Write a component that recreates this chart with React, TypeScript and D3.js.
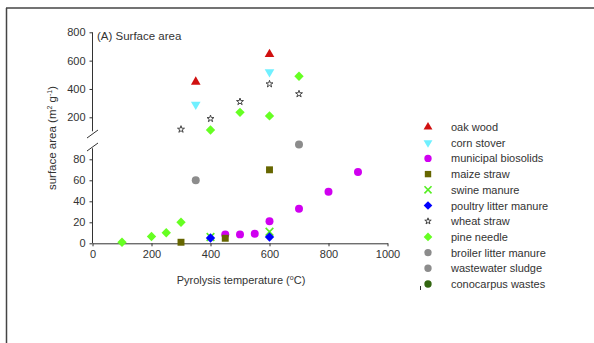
import React, { useEffect, useRef } from 'react';
import * as d3 from 'd3';

// series: name, temperatures (°C), surface area (m2/g)
const seriesNames = [
    'oak wood',
    'corn stover',
    'municipal biosolids',
    'maize straw',
    'swine manure',
    'poultry litter manure',
    'wheat straw',
    'pine needle',
    'broiler litter manure',
    'wastewater sludge',
    'conocarpus wastes',
];
const oakWoodT = [350, 600];
const oakWoodV = [450, 645];
const cornStoverT = [350, 600];
const cornStoverV = [290, 520];
const biosolidsT = [450, 500, 550, 600, 700, 800, 900];
const biosolidsV = [8.5, 8.5, 9, 21, 33, 49, 68];
const maizeStrawT = [300, 450, 600];
const maizeStrawV = [1, 4.8, 70];
const swineManureT = [400, 600];
const swineManureV = [6, 11];
const poultryT = [400, 600];
const poultryV = [5, 6];
const wheatStrawT = [300, 400, 500, 600, 700];
const wheatStrawV = [115, 190, 310, 435, 365];
const pineNeedleT = [100, 200, 250, 300, 400, 500, 600, 700];
const pineNeedleV = [1, 6.5, 10, 20, 110, 235, 210, 490];
const broilerT = [350];
const broilerV = [60];
const sludgeT = [700];
const sludgeV = [94];
const conocarpusT: number[] = [];
const conocarpusV: number[] = [];

const xTicks = [0, 200, 400, 600, 800, 1000];
const lowTicks = [0, 20, 40, 60, 80];
const highTicks = [200, 400, 600, 800];

const series = [
    { t: oakWoodT, v: oakWoodV, shape: 'triUp', color: '#d01010' },
    { t: cornStoverT, v: cornStoverV, shape: 'triDown', color: '#70f0ff' },
    { t: biosolidsT, v: biosolidsV, shape: 'circle', color: '#d000f0' },
    { t: maizeStrawT, v: maizeStrawV, shape: 'square', color: '#666600' },
    { t: swineManureT, v: swineManureV, shape: 'x', color: '#55ee22' },
    { t: poultryT, v: poultryV, shape: 'diamond', color: '#0000ff' },
    { t: wheatStrawT, v: wheatStrawV, shape: 'star', color: '#444444' },
    { t: pineNeedleT, v: pineNeedleV, shape: 'diamond', color: '#66ff22' },
    { t: broilerT, v: broilerV, shape: 'circle', color: '#8c8c8c' },
    { t: sludgeT, v: sludgeV, shape: 'circle', color: '#8c8c8c' },
    { t: conocarpusT, v: conocarpusV, shape: 'circle', color: '#336611' },
];

const FONT = 'Liberation Sans, Arial, sans-serif';
const TEXT = '#333333';

function drawMarker(g, shape, color, x, y, scale = 1) {
    const sym = d3.symbol();
    let path;
    let rot = 0;
    let fill = color;
    let stroke = 'none';
    if (shape === 'triUp') path = sym.type(d3.symbolTriangle).size(40 * scale)();
    else if (shape === 'triDown') {
        path = sym.type(d3.symbolTriangle).size(40 * scale)();
        rot = 180;
    } else if (shape === 'circle') path = sym.type(d3.symbolCircle).size(50 * scale)();
    else if (shape === 'square') path = sym.type(d3.symbolSquare).size(48 * scale)();
    else if (shape === 'diamond') {
        path = sym.type(d3.symbolSquare).size(44 * scale)();
        rot = 45;
    } else if (shape === 'x') {
        path = sym.type(d3.symbolTimes || d3.symbolCross).size(40 * scale)();
        fill = 'none';
        stroke = color;
    } else if (shape === 'star') {
        path = sym.type(d3.symbolStar).size(15 * scale)();
        fill = '#ffffff';
        stroke = color;
    }
    g.append('path')
        .attr('d', path)
        .attr('transform', `translate(${x},${y}) rotate(${rot})`)
        .attr('fill', fill)
        .attr('stroke', stroke)
        .attr('stroke-width', shape === 'x' ? 1.6 : 1);
}

export default function App() {
    const ref = useRef(null);

    useEffect(() => {
        const svg = d3.select(ref.current);
        svg.selectAll('*').remove();

        // frame lines (left and top only visible)
        svg.append('line').attr('x1', 6.5).attr('x2', 6.5).attr('y1', 8).attr('y2', 343)
            .attr('stroke', '#444').attr('stroke-width', 1.5);
        svg.append('line').attr('x1', 6).attr('x2', 594).attr('y1', 8).attr('y2', 8)
            .attr('stroke', '#444').attr('stroke-width', 1.5);

        const x = d3.scaleLinear().domain([0, 1000]).range([92.5, 387.5]);
        const yLow = d3.scaleLinear().domain([0, 80]).range([243.3, 159.3]);
        const yHigh = d3.scaleLinear().domain([200, 800]).range([117.3, 32.3]);
        const yOf = (v) => (v > 100 ? yHigh(v) : yLow(v));

        const axisStyle = (g) => {
            g.selectAll('text').attr('font-family', FONT).attr('font-size', 11).attr('fill', TEXT);
            g.selectAll('line').attr('stroke', TEXT);
            g.selectAll('path').attr('stroke', TEXT);
        };

        // x axis
        svg.append('g')
            .attr('transform', 'translate(0,243.3)')
            .call(
                d3.axisBottom(x).tickValues(xTicks).tickFormat(d3.format('d'))
                    .tickSize(3).tickSizeOuter(0).tickPadding(4)
            )
            .call(axisStyle);

        // lower y axis
        const gl = svg.append('g')
            .attr('transform', 'translate(92.5,0)')
            .call(d3.axisLeft(yLow).tickValues(lowTicks).tickSize(3).tickSizeOuter(0).tickPadding(4))
            .call(axisStyle);
        gl.select('.domain').attr('d', `M0,${yLow(0)}V${yLow(0) - 95}`);

        // upper y axis
        const gh = svg.append('g')
            .attr('transform', 'translate(92.5,0)')
            .call(d3.axisLeft(yHigh).tickValues(highTicks).tickSize(3).tickSizeOuter(0).tickPadding(4))
            .call(axisStyle);
        gh.select('.domain').attr('d', `M0,${yHigh(800)}V${yHigh(800) + 99}`);

        // break marks
        [134, 147].forEach((cy) => {
            svg.append('line')
                .attr('x1', 87).attr('y1', cy + 4).attr('x2', 98).attr('y2', cy - 4)
                .attr('stroke', TEXT).attr('stroke-width', 1);
        });

        // axis labels
        svg.append('text')
            .attr('x', 97).attr('y', 40)
            .attr('font-family', FONT).attr('font-size', 11.5).attr('fill', TEXT)
            .text('(A) Surface area');

        const xl = svg.append('text')
            .attr('x', 241).attr('y', 284)
            .attr('text-anchor', 'middle')
            .attr('font-family', FONT).attr('font-size', 11).attr('fill', TEXT);
        xl.append('tspan').text('Pyrolysis temperature (');
        xl.append('tspan').attr('dy', -4).attr('font-size', 7).text('o');
        xl.append('tspan').attr('dy', 4).text('C)');

        const yl = svg.append('text')
            .attr('transform', 'translate(56,138) rotate(-90)')
            .attr('text-anchor', 'middle')
            .attr('font-family', FONT).attr('font-size', 11.5).attr('fill', TEXT);
        yl.append('tspan').text('surface area (m');
        yl.append('tspan').attr('dy', -4).attr('font-size', 7).text('2');
        yl.append('tspan').attr('dy', 4).text(' g');
        yl.append('tspan').attr('dy', -4).attr('font-size', 7).text('-1');
        yl.append('tspan').attr('dy', 4).text(')');

        // points
        const pts = svg.append('g');
        series.forEach((s) => {
            s.t.forEach((t, i) => drawMarker(pts, s.shape, s.color, x(t), yOf(s.v[i])));
        });

        // legend
        const ly = d3.scaleLinear().domain([0, 10]).range([127, 284]);
        const lg = svg.append('g');
        seriesNames.forEach((name, i) => {
            drawMarker(lg, series[i].shape, series[i].color, 428, ly(i), 0.85);
            lg.append('text')
                .attr('x', 451).attr('y', ly(i) + 4)
                .attr('font-family', FONT).attr('font-size', 11).attr('fill', TEXT)
                .text(name);
        });
        lg.append('line').attr('x1', 420.5).attr('x2', 420.5).attr('y1', 286).attr('y2', 290)
            .attr('stroke', TEXT).attr('stroke-width', 1);
    }, []);

    return (
        <svg
            ref={ref}
            width={594}
            height={343}
            style={{ position: 'absolute', left: 0, top: 0, background: '#fff' }}
        />
    );
}
